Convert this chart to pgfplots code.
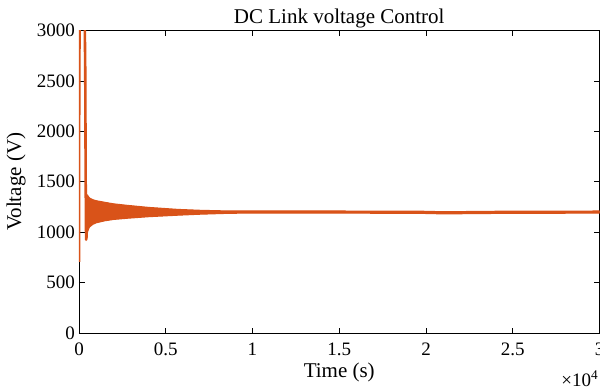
\documentclass[border=0pt]{standalone}
\usepackage{pgfplots}
\pgfplotsset{compat=1.18}
\usepackage{fontspec}
\setmainfont{Liberation Serif}
\definecolor{morange}{rgb}{0.851,0.325,0.098}
\begin{document}
\begin{tikzpicture}
\begin{axis}[name=ax, at={(79pt,56pt)}, anchor=south west, scale only axis,
  width=520.5pt, height=302.5pt,
  xmin=0, xmax=30000, ymin=0, ymax=3000,
  xtick={0,5000,10000,15000,20000,25000,30000},
  xticklabels={0,0.5,1,1.5,2,2.5,3},
  ytick={0,500,1000,1500,2000,2500,3000},
  yticklabels={0,500,1000,1500,2000,2500,3000},
  scaled x ticks=false,
  tick align=inside, major tick length=5.5pt,
  axis line style={line width=0.8pt, black},
  every tick/.style={black, line width=0.8pt},
  tick label style={font=\fontsize{19}{22}\selectfont},
  /pgf/number format/assume math mode=true,
  xticklabel style={anchor=base, yshift=-22pt},
  yticklabel style={xshift=-0.5pt},
  clip=true,
]
% start-up transient
\addplot[morange, line width=2.6pt, line join=round] coordinates {
(0,706) (15,2600) (40,3100) (200,3300) (330,3100) (360,2600) (385,1500) (410,925) (440,960) (465,1200)
(490,1340) (520,1300)
};
% envelope of the fast oscillation (upper edge, then lower edge back)
\addplot[fill=morange, draw=morange, line width=1pt, line join=round] coordinates {
(480,1370) (600,1340) (800,1322) (1000,1312) (1500,1296) (2000,1281) (2800,1266) (4000,1246)
(5700,1226) (7000,1217) (8500,1211) (10000,1210) (15000,1210) (19500,1209) (20000,1207)
(21000,1203) (23000,1206) (25000,1209) (30000,1210)
(30000,1188) (25000,1187) (23000,1184) (21000,1181) (20000,1185) (19500,1187) (15000,1188)
(10000,1190) (8500,1186) (7000,1178) (5700,1168) (4000,1153) (2800,1138) (2000,1126)
(1500,1113) (1000,1093) (800,1078) (600,1050) (480,1000)
} -- cycle;
\end{axis}
\node[rotate=90, anchor=base, font=\fontsize{21}{24}\selectfont] at ([xshift=-58pt]ax.west) {Voltage (V)};
\node[anchor=base, font=\fontsize{21}{24}\selectfont] at ([yshift=-44pt]ax.south) {Time (s)};
\node[anchor=base, font=\fontsize{21}{24}\selectfont] at ([yshift=7pt]ax.north) {DC Link voltage Control};
\node[anchor=base east, font=\fontsize{19}{22}\selectfont, inner sep=0pt] at ([yshift=-53pt, xshift=-1pt]ax.south east) {×10\textsuperscript{4}};
\pgfresetboundingbox
\useasboundingbox (0,0) rectangle (600pt,389pt);
\end{tikzpicture}
\end{document}
